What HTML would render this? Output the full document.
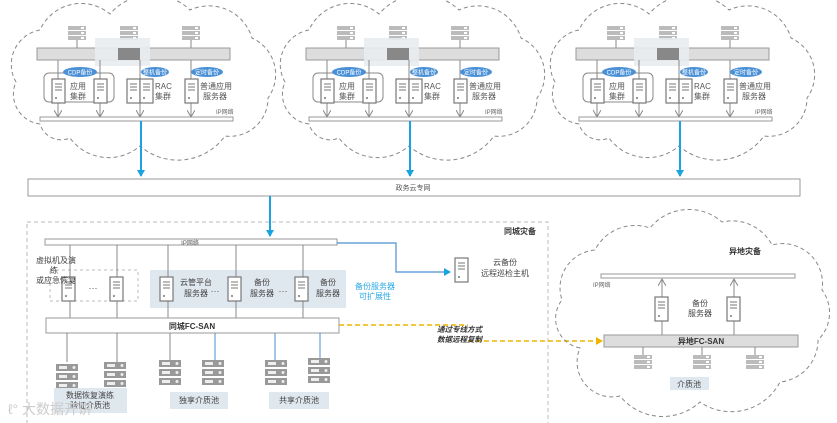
<!DOCTYPE html>
<html><head><meta charset="utf-8"><style>
html,body{margin:0;padding:0;background:#fff;}
svg{display:block;font-family:"Liberation Sans","Noto Sans CJK SC",sans-serif;}
</style></head><body>
<svg width="837" height="423" viewBox="0 0 837 423" xmlns="http://www.w3.org/2000/svg">
<defs>
<marker id="ab" markerWidth="8" markerHeight="8" refX="6" refY="4" orient="auto" markerUnits="userSpaceOnUse"><path d="M0,0 L7,4 L0,8 Z" fill="#1aa3e0"/></marker>
<marker id="ag" markerWidth="8" markerHeight="8" refX="7" refY="4" orient="auto" markerUnits="userSpaceOnUse"><path d="M0,0 L7,4 L0,8" fill="none" stroke="#888" stroke-width="1"/></marker>
<marker id="ay" markerWidth="8" markerHeight="8" refX="6" refY="4" orient="auto" markerUnits="userSpaceOnUse"><path d="M0,0 L7,4 L0,8 Z" fill="#f0b400"/></marker>
<g id="srv"><rect x="0" y="0" width="13" height="24" fill="#fff" stroke="#777" stroke-width="1.2"/><line x1="3" y1="5" x2="10" y2="5" stroke="#777"/><line x1="3" y1="8" x2="10" y2="8" stroke="#777"/><line x1="3" y1="11" x2="10" y2="11" stroke="#777"/><circle cx="4" cy="19" r="1" fill="#777"/></g>
<g id="rack"><rect x="0" y="0" width="18" height="4" fill="#bbb"/><rect x="0" y="5" width="18" height="4" fill="#bbb"/><rect x="0" y="10" width="18" height="4" fill="#bbb"/><rect x="13" y="1" width="3" height="2" fill="#fff"/><rect x="13" y="6" width="3" height="2" fill="#fff"/><rect x="13" y="11" width="3" height="2" fill="#fff"/></g>
<g id="stk"><rect x="0" y="0" width="22" height="7" fill="#999"/><rect x="0" y="9" width="22" height="7" fill="#999"/><rect x="0" y="18" width="22" height="7" fill="#999"/><rect x="3" y="2" width="8" height="3" fill="#eee"/><rect x="3" y="11" width="8" height="3" fill="#eee"/><rect x="3" y="20" width="8" height="3" fill="#eee"/><circle cx="18" cy="3.5" r="1.5" fill="#eee"/><circle cx="18" cy="12.5" r="1.5" fill="#eee"/><circle cx="18" cy="21.5" r="1.5" fill="#eee"/></g>
<g id="cloud">
<path d="M40,124 A30,30 0 0 1 16,82 A35,35 0 0 1 40,30 A45,45 0 0 1 110,14 A55,55 0 0 1 190,10 A45,45 0 0 1 252,38 A40,40 0 0 1 268,98 A38,38 0 0 1 225,136 A58,58 0 0 1 140,146 A48,48 0 0 1 70,138 A22,22 0 0 1 40,124 Z" fill="none" stroke="#888" stroke-dasharray="4,3"/>
<use href="#rack" x="68" y="26"/><use href="#rack" x="120" y="26"/><use href="#rack" x="182" y="26"/>
<line x1="77" y1="40" x2="77" y2="48" stroke="#888"/><line x1="191" y1="40" x2="191" y2="48" stroke="#888"/>
<rect x="37" y="48" width="193" height="12" fill="#ddd" stroke="#999"/>
<rect x="95" y="38" width="55" height="28" fill="#e8ecef" opacity="0.9"/><rect x="118" y="48" width="22" height="12" fill="#888"/>
<rect x="44" y="73" width="70" height="29" rx="5" fill="none" stroke="#888"/>
<line x1="58" y1="60" x2="58" y2="117" stroke="#888" marker-end="url(#ag)"/>
<line x1="100" y1="60" x2="100" y2="117" stroke="#888" marker-end="url(#ag)"/>
<line x1="140" y1="60" x2="140" y2="117" stroke="#888" marker-end="url(#ag)"/>
<line x1="191" y1="60" x2="191" y2="117" stroke="#888" marker-end="url(#ag)"/>
<ellipse cx="80" cy="72" rx="17" ry="5" fill="#4a90d6"/><text x="80" y="74.5" font-size="6" fill="#fff" text-anchor="middle">CDP备份</text>
<ellipse cx="155" cy="72" rx="14" ry="5" fill="#4a90d6"/><text x="155" y="74.5" font-size="6" fill="#fff" text-anchor="middle">整机备份</text>
<ellipse cx="207" cy="72" rx="16" ry="5" fill="#4a90d6"/><text x="207" y="74.5" font-size="6" fill="#fff" text-anchor="middle">定时备份</text>
<use href="#srv" x="52" y="79"/><use href="#srv" x="94" y="79"/>
<use href="#srv" x="127" y="79"/><use href="#srv" x="140" y="79"/><use href="#srv" x="185" y="79"/>
<text x="70" y="89" font-size="8" fill="#555">应用</text><text x="70" y="99" font-size="8" fill="#555">集群</text>
<text x="155" y="89" font-size="8" fill="#555">RAC</text><text x="155" y="99" font-size="8" fill="#555">集群</text>
<text x="200" y="89" font-size="8" fill="#555">普通应用</text><text x="203" y="99" font-size="8" fill="#555">服务器</text>
<text x="216" y="114" font-size="6" fill="#666">IP网络</text>
<rect x="40" y="117" width="193" height="4" fill="#fff" stroke="#999"/>
<line x1="141" y1="121" x2="141" y2="176" stroke="#1aa3e0" stroke-width="2" marker-end="url(#ab)"/>
</g>
</defs>

<use href="#cloud" x="0" y="0"/>
<use href="#cloud" x="269" y="0"/>
<use href="#cloud" x="539" y="0"/>

<rect x="28" y="179" width="772" height="17" fill="#fff" stroke="#999"/>
<text x="413" y="190" font-size="7" fill="#555" text-anchor="middle">政务云专网</text>
<line x1="270" y1="196" x2="270" y2="236" stroke="#1aa3e0" stroke-width="2" marker-end="url(#ab)"/>

<rect x="27" y="222" width="521" height="210" fill="none" stroke="#bbb" stroke-dasharray="4,3"/>
<text x="520" y="234" font-size="8" font-weight="bold" fill="#333" text-anchor="middle">同城灾备</text>

<rect x="45" y="239" width="292" height="6" fill="#fff" stroke="#999"/>
<text x="190" y="245" font-size="6" fill="#555" text-anchor="middle">IP网络</text>
<polyline points="337,243 396,243 396,272 450,272" fill="none" stroke="#4a8fd0" stroke-width="1.2" marker-end="url(#ab)"/>
<use href="#srv" x="455" y="258"/>
<text x="505" y="265" font-size="8" fill="#444" text-anchor="middle">云备份</text>
<text x="505" y="276" font-size="8" fill="#444" text-anchor="middle">远程巡检主机</text>

<rect x="50" y="270" width="88" height="31" fill="none" stroke="#bbb" stroke-dasharray="3,3"/>
<rect x="150" y="270" width="196" height="38" fill="#dfe7ef"/>
<line x1="70" y1="245" x2="70" y2="318" stroke="#888"/>
<line x1="117" y1="245" x2="117" y2="318" stroke="#888"/>
<line x1="168" y1="245" x2="168" y2="318" stroke="#888"/>
<line x1="236" y1="245" x2="236" y2="318" stroke="#888"/>
<line x1="303" y1="245" x2="303" y2="318" stroke="#888"/>
<use href="#srv" x="62" y="277"/><use href="#srv" x="110" y="277"/>
<use href="#srv" x="160" y="277"/><use href="#srv" x="228" y="277"/><use href="#srv" x="295" y="277"/>
<text x="93" y="291" font-size="9" fill="#555" text-anchor="middle">···</text>
<text x="215" y="294" font-size="9" fill="#555" text-anchor="middle">···</text>
<text x="283" y="294" font-size="9" fill="#555" text-anchor="middle">···</text>
<text x="36" y="263" font-size="8" fill="#444">虚拟机及演</text>
<text x="50" y="273" font-size="8" fill="#444">练</text>
<text x="36" y="283" font-size="8" fill="#444">或应急恢复</text>
<text x="196" y="285" font-size="8" fill="#444" text-anchor="middle">云管平台</text>
<text x="196" y="296" font-size="8" fill="#444" text-anchor="middle">服务器</text>
<text x="262" y="285" font-size="8" fill="#444" text-anchor="middle">备份</text>
<text x="262" y="296" font-size="8" fill="#444" text-anchor="middle">服务器</text>
<text x="328" y="285" font-size="8" fill="#444" text-anchor="middle">备份</text>
<text x="328" y="296" font-size="8" fill="#444" text-anchor="middle">服务器</text>
<text x="375" y="289" font-size="8" fill="#29a9e6" text-anchor="middle">备份服务器</text>
<text x="375" y="299" font-size="8" fill="#29a9e6" text-anchor="middle">可扩展性</text>

<rect x="46" y="318" width="293" height="15" fill="#fff" stroke="#999"/>
<text x="192" y="329" font-size="8" font-weight="bold" fill="#333" text-anchor="middle">同城FC-SAN</text>
<line x1="67" y1="333" x2="67" y2="362" stroke="#888"/>
<line x1="117" y1="333" x2="117" y2="362" stroke="#888"/>
<line x1="170" y1="333" x2="170" y2="360" stroke="#888"/>
<line x1="215" y1="333" x2="215" y2="360" stroke="#4a8fd0"/>
<line x1="275" y1="333" x2="275" y2="360" stroke="#4a8fd0"/>
<line x1="320" y1="333" x2="320" y2="358" stroke="#4a8fd0"/>
<use href="#stk" x="56" y="364"/><use href="#stk" x="104" y="362"/>
<use href="#stk" x="159" y="360"/><use href="#stk" x="202" y="360"/>
<use href="#stk" x="265" y="360"/><use href="#stk" x="308" y="358"/>
<rect x="54" y="388" width="73" height="25" fill="#dfe7ef"/>
<text x="90" y="398" font-size="8" fill="#444" text-anchor="middle">数据恢复演练</text>
<text x="90" y="408" font-size="8" fill="#444" text-anchor="middle">验证介质池</text>
<rect x="170" y="392" width="58" height="17" fill="#dfe7ef"/>
<text x="199" y="403" font-size="8" fill="#444" text-anchor="middle">独享介质池</text>
<rect x="269" y="392" width="60" height="17" fill="#dfe7ef"/>
<text x="299" y="403" font-size="8" fill="#444" text-anchor="middle">共享介质池</text>
<text x="8" y="414" font-size="14" fill="#ccc">ℓ° 大数据开讲</text>

<polyline points="339,325 468,325" fill="none" stroke="#f0b400" stroke-width="1.5" stroke-dasharray="5,3"/>
<line x1="468" y1="341" x2="602" y2="341" stroke="#f0b400" stroke-width="1.5" stroke-dasharray="5,3" marker-end="url(#ay)"/>
<text x="437" y="332" font-size="7.5" font-style="italic" font-weight="bold" fill="#333">通过专线方式</text>
<text x="437" y="342" font-size="7.5" font-style="italic" font-weight="bold" fill="#333">数据远程复制</text>

<path d="M580,348 A30,30 0 0 1 562,300 A38,38 0 0 1 595,250 A45,45 0 0 1 650,228 A50,50 0 0 1 722,222 A45,45 0 0 1 772,245 A40,40 0 0 1 822,290 A38,38 0 0 1 818,340 A42,42 0 0 1 780,382 A55,55 0 0 1 700,402 A55,55 0 0 1 620,396 A35,35 0 0 1 580,348 Z" fill="none" stroke="#888" stroke-dasharray="4,3"/>
<text x="745" y="254" font-size="8" font-weight="bold" fill="#333" text-anchor="middle">异地灾备</text>
<rect x="601" y="274" width="194" height="4" fill="#fff" stroke="#999"/>
<text x="593" y="287" font-size="6" fill="#666">IP网络</text>
<line x1="662" y1="335" x2="662" y2="279" stroke="#888" marker-end="url(#ag)"/>
<line x1="734" y1="335" x2="734" y2="279" stroke="#888" marker-end="url(#ag)"/>
<use href="#srv" x="655" y="297"/><use href="#srv" x="727" y="297"/>
<text x="700" y="306" font-size="8" fill="#444" text-anchor="middle">备份</text>
<text x="700" y="316" font-size="8" fill="#444" text-anchor="middle">服务器</text>
<rect x="604" y="335" width="194" height="12" fill="#ddd" stroke="#999"/>
<text x="701" y="344" font-size="8" font-weight="bold" fill="#333" text-anchor="middle">异地FC-SAN</text>
<line x1="643" y1="347" x2="643" y2="355" stroke="#888"/><line x1="702" y1="347" x2="702" y2="355" stroke="#888"/><line x1="755" y1="347" x2="755" y2="355" stroke="#888"/>
<use href="#rack" x="634" y="355"/><use href="#rack" x="693" y="355"/><use href="#rack" x="746" y="355"/>
<rect x="670" y="377" width="39" height="13" fill="#dfe7ef"/>
<text x="689" y="387" font-size="8" fill="#444" text-anchor="middle">介质池</text>
</svg>
</body></html>
